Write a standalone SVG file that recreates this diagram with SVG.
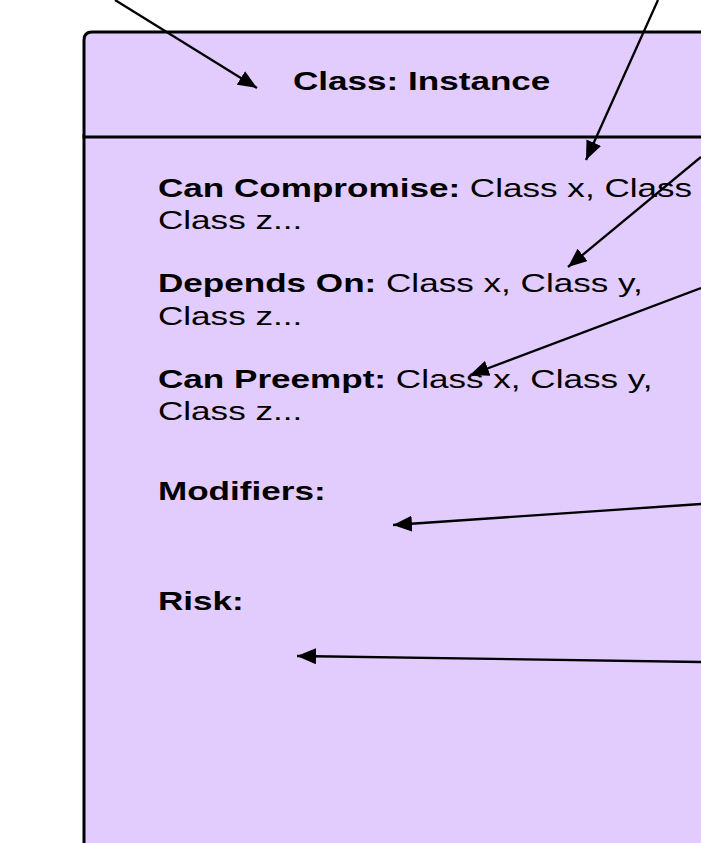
<svg xmlns="http://www.w3.org/2000/svg" width="701" height="843" viewBox="0 0 701 843">
  <defs>
    <marker id="ah" markerWidth="19" markerHeight="16" refX="19" refY="8" orient="auto" markerUnits="userSpaceOnUse">
      <path d="M0,0 L19,8 L0,16 z" fill="#000"/>
    </marker>
    <style>
      .box { fill: #e2ccfe; stroke: #000; stroke-width: 3; }
      .t { font-family: "Liberation Sans", Arial, sans-serif; font-size: 26px; fill: #000; }
      .b { font-weight: bold; }
      .conn { stroke: #000; stroke-width: 2.3; fill: none; marker-end: url(#ah); }
    </style>
  </defs>
  <rect width="701" height="843" fill="#fff"/>
  <g id="class-node">
    <path class="box" d="M84,136 L84,900 L760,900 L760,136 Z"/>
    <path class="box" d="M84,137 L84,40 Q84,32 92,32 L760,32 L760,137 Z"/>
    <g transform="scale(1.35,1)">
      <text class="t b" x="217" y="90">Class: Instance</text>
      <text class="t" x="117" y="197"><tspan class="b">Can Compromise:</tspan> Class x, Class</text>
      <text class="t" x="117" y="229">Class z...</text>
      <text class="t" x="117" y="292"><tspan class="b">Depends On:</tspan> Class x, Class y,</text>
      <text class="t" x="117" y="325">Class z...</text>
      <text class="t" x="117" y="388"><tspan class="b">Can Preempt:</tspan> Class x, Class y,</text>
      <text class="t" x="117" y="420">Class z...</text>
      <text class="t b" x="117" y="500">Modifiers:</text>
      <text class="t b" x="117" y="610">Risk:</text>
    </g>
  </g>
  <g id="connectors">
    <line class="conn" x1="115" y1="0" x2="257" y2="88"/>
    <line class="conn" x1="658" y1="0" x2="586" y2="160"/>
    <line class="conn" x1="701" y1="157" x2="568" y2="267"/>
    <line class="conn" x1="701" y1="288" x2="470" y2="375"/>
    <line class="conn" x1="701" y1="504" x2="393" y2="525"/>
    <line class="conn" x1="701" y1="662" x2="297" y2="656"/>
  </g>
</svg>
